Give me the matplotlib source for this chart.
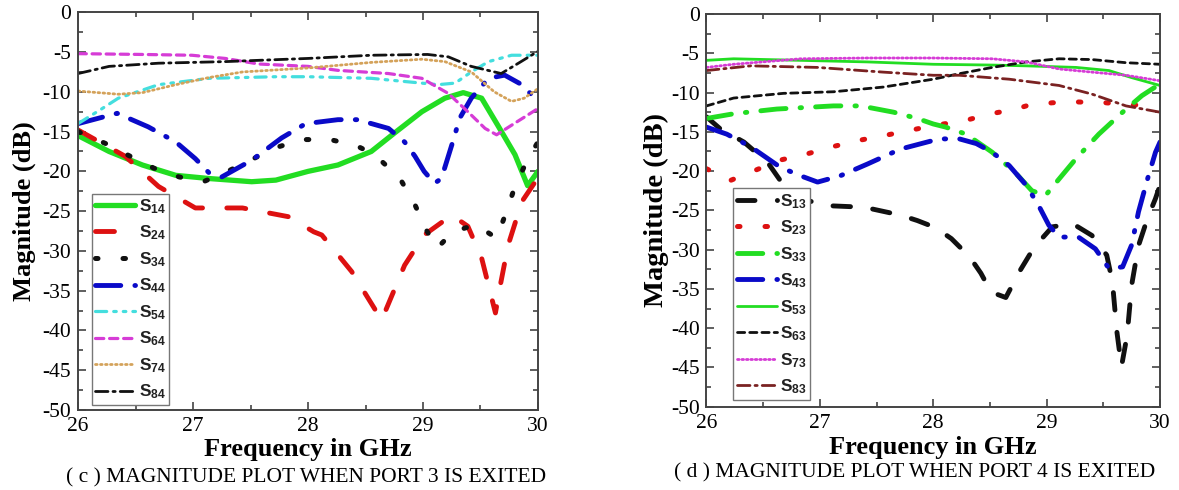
import matplotlib
matplotlib.use("Agg")
import matplotlib.pyplot as plt
from matplotlib.ticker import MultipleLocator

plt.rcParams['font.family'] = ['Liberation Serif', 'DejaVu Serif']
plt.rcParams['axes.unicode_minus'] = False
plt.rcParams['mathtext.fontset'] = 'custom'
plt.rcParams['mathtext.rm'] = 'Liberation Sans:bold'
plt.rcParams['mathtext.it'] = 'Liberation Sans:bold'
plt.rcParams['mathtext.bf'] = 'Liberation Sans:bold'

# ---------------- data: (c) port 3 excited ----------------
f_s14 = [26.0, 26.27, 26.56, 26.85, 27.14, 27.51, 27.72, 28.0, 28.26, 28.55, 28.75, 28.99, 29.19, 29.35, 29.51, 29.65, 29.8, 29.91, 30.0]
s14 = [-15.5, -17.5, -19.2, -20.5, -20.9, -21.3, -21.1, -20.0, -19.2, -17.5, -15.2, -12.5, -10.8, -10.1, -10.8, -14.2, -17.9, -21.8, -20.0]

f_s24 = [26.0, 26.41, 26.70, 27.02, 27.43, 27.83, 28.05, 28.12, 28.38, 28.64, 28.84, 29.01, 29.25, 29.39, 29.51, 29.63, 29.67, 29.74, 29.86, 30.0]
s24 = [-14.8, -18.1, -21.9, -24.6, -24.6, -25.7, -27.6, -28.0, -32.6, -38.7, -31.8, -28.0, -25.5, -26.9, -30.9, -37.8, -34.5, -29.3, -23.8, -20.8]

f_s34 = [26.0, 26.24, 26.44, 26.66, 26.88, 27.09, 27.3, 27.5, 27.7, 27.95, 28.19, 28.41, 28.58, 28.8, 28.93, 29.03, 29.12, 29.26, 29.46, 29.64, 29.72, 29.8, 29.9, 30.0]
s34 = [-15.0, -16.5, -18.0, -19.6, -20.7, -21.3, -20.0, -18.6, -17.1, -16.0, -16.0, -16.7, -17.9, -20.9, -24.2, -27.4, -29.7, -27.6, -26.7, -28.4, -25.3, -21.9, -18.8, -16.3]

f_s44 = [26.0, 26.34, 26.61, 26.85, 27.02, 27.14, 27.25, 27.51, 27.77, 27.98, 28.26, 28.43, 28.7, 28.84, 28.93, 29.01, 29.1, 29.16, 29.25, 29.32, 29.42, 29.57, 29.71, 29.86, 30.0]
s44 = [-14.0, -12.7, -14.4, -16.3, -18.4, -20.2, -20.7, -18.6, -15.8, -14.0, -13.5, -13.5, -14.6, -16.3, -18.1, -20.0, -21.5, -20.9, -16.7, -13.3, -10.8, -8.3, -7.9, -9.1, -11.2]

f_s54 = [26.0, 26.21, 26.35, 26.7, 27.14, 27.72, 28.0, 28.55, 28.84, 29.13, 29.28, 29.42, 29.57, 29.77, 30.0]
s54 = [-14.0, -12.1, -10.8, -9.1, -8.3, -8.1, -8.1, -8.3, -8.7, -9.1, -8.9, -7.5, -6.2, -5.4, -5.4]

f_s64 = [26.0, 26.56, 26.99, 27.28, 27.57, 28.0, 28.26, 28.7, 28.99, 29.22, 29.39, 29.54, 29.64, 29.77, 30.0]
s64 = [-5.2, -5.3, -5.4, -5.8, -6.5, -6.8, -7.3, -7.7, -8.3, -10.2, -12.5, -14.6, -15.4, -14.2, -12.1]

f_s74 = [26.0, 26.35, 26.56, 26.85, 27.14, 27.43, 28.0, 28.55, 28.99, 29.19, 29.42, 29.62, 29.77, 29.88, 30.0]
s74 = [-9.9, -10.3, -10.1, -9.1, -8.2, -7.5, -7.0, -6.3, -5.9, -6.2, -7.5, -10.0, -11.2, -10.8, -9.6]

f_s84 = [26.0, 26.27, 26.7, 27.28, 28.0, 28.55, 29.04, 29.22, 29.42, 29.68, 29.83, 30.0]
s84 = [-7.7, -6.8, -6.4, -6.2, -5.8, -5.4, -5.3, -5.6, -6.8, -7.7, -6.4, -4.9]

# ---------------- data: (d) port 4 excited ----------------
f_s13 = [26.0, 26.12, 26.33, 26.54, 26.68, 26.83, 27.06, 27.39, 27.71, 27.86, 28.02, 28.16, 28.32, 28.42, 28.51, 28.64, 28.76, 28.89, 29.05, 29.23, 29.4, 29.53, 29.58, 29.62, 29.66, 29.71, 29.75, 29.81, 29.89, 29.96, 30.0]
s13 = [-13.1, -14.6, -16.3, -18.9, -21.8, -23.5, -24.4, -24.6, -25.6, -26.3, -27.2, -28.6, -30.9, -33.0, -35.4, -36.1, -32.8, -29.7, -27.1, -26.7, -28.2, -30.7, -34.1, -40.5, -44.9, -40.9, -34.5, -29.5, -26.0, -23.5, -21.8]

f_s23 = [26.0, 26.21, 26.43, 26.65, 26.89, 27.11, 27.34, 27.56, 27.8, 28.0, 28.27, 28.51, 28.73, 28.82, 29.05, 29.28, 29.52, 29.75, 30.0]
s23 = [-19.7, -21.2, -19.9, -18.6, -17.8, -16.9, -16.1, -15.5, -14.8, -14.2, -13.6, -12.7, -12.1, -11.7, -11.3, -11.2, -11.3, -11.6, -11.5]

f_s33 = [26.0, 26.24, 26.62, 27.12, 27.36, 27.65, 27.86, 28.0, 28.11, 28.29, 28.52, 28.73, 28.87, 28.99, 29.11, 29.26, 29.46, 29.67, 29.84, 30.0]
s33 = [-13.3, -12.7, -12.1, -11.7, -11.7, -12.5, -13.3, -14.0, -14.4, -15.3, -17.6, -20.3, -22.5, -23.1, -21.0, -18.4, -15.3, -12.5, -10.4, -8.9]

f_s43 = [26.0, 26.18, 26.39, 26.65, 26.83, 26.98, 27.18, 27.42, 27.71, 28.0, 28.08, 28.23, 28.38, 28.52, 28.67, 28.82, 28.93, 29.02, 29.11, 29.28, 29.43, 29.55, 29.67, 29.75, 29.81, 29.89, 29.96, 30.0]
s43 = [-14.4, -15.3, -16.9, -19.5, -20.6, -21.4, -20.6, -19.1, -17.2, -16.1, -15.9, -15.9, -16.5, -17.6, -19.3, -21.8, -24.4, -26.9, -28.4, -28.4, -29.9, -32.4, -32.2, -29.4, -25.2, -21.0, -17.6, -16.3]

f_s53 = [26.0, 26.24, 26.83, 27.42, 28.0, 28.52, 28.82, 29.26, 29.55, 29.75, 30.0]
s53 = [-5.9, -5.7, -5.9, -6.1, -6.4, -6.5, -6.6, -6.8, -7.2, -8.1, -9.1]

f_s63 = [26.0, 26.24, 26.68, 27.12, 27.56, 28.0, 28.23, 28.52, 28.82, 29.11, 29.4, 29.7, 30.0]
s63 = [-11.7, -10.7, -10.1, -9.9, -9.3, -8.3, -7.6, -6.8, -6.1, -5.7, -5.8, -6.2, -6.4]

f_s73 = [26.0, 26.24, 26.83, 27.42, 28.0, 28.52, 28.82, 29.11, 29.4, 29.7, 30.0]
s73 = [-6.8, -6.4, -5.7, -5.6, -5.6, -5.7, -6.1, -7.0, -7.4, -7.8, -8.5]

f_s83 = [26.0, 26.39, 26.98, 27.56, 28.0, 28.23, 28.67, 29.11, 29.4, 29.7, 30.0]
s83 = [-7.2, -6.6, -6.8, -7.4, -7.8, -7.8, -8.3, -9.1, -10.2, -11.7, -12.5]

x_ticks = [26, 27, 28, 29, 30]
y_ticks = [0, -5, -10, -15, -20, -25, -30, -35, -40, -45, -50]
caption_c = "( c ) MAGNITUDE PLOT WHEN PORT 3 IS EXITED"
caption_d = "( d ) MAGNITUDE PLOT WHEN PORT 4 IS EXITED"

GREEN = '#22dd22'
RED = '#dd1111'
BLUE = '#0a0ac8'
CYAN = '#44dede'
MAGENTA = '#d63cd6'
TAN = '#d4a25a'
BROWN = '#7a2222'
BLACK = '#111111'

fig = plt.figure(figsize=(11.79, 4.90), dpi=100)
ax1 = fig.add_axes([0.0662, 0.1633, 0.4563 - 0.0662, 0.9749 - 0.1633])
ax2 = fig.add_axes([0.5992, 0.1700, 0.9839 - 0.5992, 0.9714 - 0.1700])


def line(ax, x, y, color, lw, dashes, label, cap='round'):
    ln, = ax.plot(x, y, color=color, lw=lw, label=label,
                  solid_capstyle=cap, dash_capstyle=cap, solid_joinstyle='round')
    if dashes is not None:
        ln.set_dashes(dashes)
    return ln


# (c)
line(ax1, f_s14, s14, GREEN, 3.8, None, r'$\mathrm{S}_{14}$')
line(ax1, f_s24, s24, RED, 3.5, (3.9, 5.0), r'$\mathrm{S}_{24}$')
line(ax1, f_s34, s34, BLACK, 3.6, (0.5, 5.0), r'$\mathrm{S}_{34}$')
line(ax1, f_s44, s44, BLUE, 3.5, (5.2, 2.9, 0.3, 2.9), r'$\mathrm{S}_{44}$')
line(ax1, f_s54, s54, CYAN, 2.3, (3.5, 2.2, 0.8, 2.2, 0.8, 2.2), r'$\mathrm{S}_{54}$')
line(ax1, f_s64, s64, MAGENTA, 2.3, (2.6, 1.8), r'$\mathrm{S}_{64}$')
line(ax1, f_s74, s74, TAN, 2.0, (0.6, 1.2), r'$\mathrm{S}_{74}$')
line(ax1, f_s84, s84, BLACK, 2.0, (4.5, 1.8, 0.8, 1.8), r'$\mathrm{S}_{84}$')

# (d)
line(ax2, f_s13, s13, BLACK, 3.5, (3.6, 4.6), r'$\mathrm{S}_{13}$')
line(ax2, f_s23, s23, RED, 3.6, (0.5, 5.0), r'$\mathrm{S}_{23}$')
line(ax2, f_s33, s33, GREEN, 3.5, (5.2, 2.9, 0.3, 2.9), r'$\mathrm{S}_{33}$')
line(ax2, f_s43, s43, BLUE, 3.5, (5.2, 2.9, 0.3, 2.9), r'$\mathrm{S}_{43}$')
line(ax2, f_s53, s53, GREEN, 2.0, None, r'$\mathrm{S}_{53}$')
line(ax2, f_s63, s63, BLACK, 2.0, (2.6, 1.8), r'$\mathrm{S}_{63}$')
line(ax2, f_s73, s73, MAGENTA, 2.0, (0.6, 1.0), r'$\mathrm{S}_{73}$')
line(ax2, f_s83, s83, BROWN, 2.0, (4.5, 1.8, 0.8, 1.8), r'$\mathrm{S}_{83}$')

for ax in (ax1, ax2):
    ax.set_xlim(26, 30)
    ax.set_ylim(-50, 0)
    ax.set_xticks(x_ticks)
    ax.set_yticks(y_ticks)
    ax.xaxis.set_minor_locator(MultipleLocator(0.5))
    ax.yaxis.set_minor_locator(MultipleLocator(2.5))
    ax.tick_params(which='both', direction='in', top=True, right=True,
                   color='#444444', width=1.2, labelsize=15.5)
    ax.tick_params(which='major', length=6)
    ax.tick_params(which='minor', length=3.5)
    ax.tick_params(axis='x', pad=5)
    ax.tick_params(axis='y', pad=5)
    for s in ax.spines.values():
        s.set_color('#444444')
        s.set_linewidth(1.4)
    ax.set_xlabel('Frequency in GHz', fontsize=19, fontweight='bold', va='center')

ax1.set_ylabel('Magnitude (dB)', fontsize=19, fontweight='bold', va='center')
ax2.set_ylabel('Magnitude (dB)', fontsize=20.5, fontweight='bold', va='center')
ax1.xaxis.set_label_coords(0.5, -0.10)
ax1.yaxis.set_label_coords(-0.117, 0.5)
ax2.xaxis.set_label_coords(0.5, -0.103)
ax2.yaxis.set_label_coords(-0.110, 0.5)

leg_kw = dict(loc='lower left', fontsize=12.5, frameon=True, fancybox=False,
              edgecolor='#777777', framealpha=1, borderaxespad=0,
              borderpad=0.2, handletextpad=0.2, labelspacing=0.45)
lg1 = ax1.legend(bbox_to_anchor=(0.03, 0.013), handlelength=2.3, **leg_kw)
lg2 = ax2.legend(bbox_to_anchor=(0.059, 0.018), handlelength=2.3, **leg_kw)
for lg in (lg1, lg2):
    lg.get_frame().set_linewidth(1.0)
    for t in lg.get_texts():
        t.set_color('#222222')

fig.text(0.260, 0.0245, caption_c, ha='center', va='center', fontsize=15.5)
fig.text(0.776, 0.034, caption_d, ha='center', va='center', fontsize=15.5)

fig.savefig('out.png', dpi=100)
